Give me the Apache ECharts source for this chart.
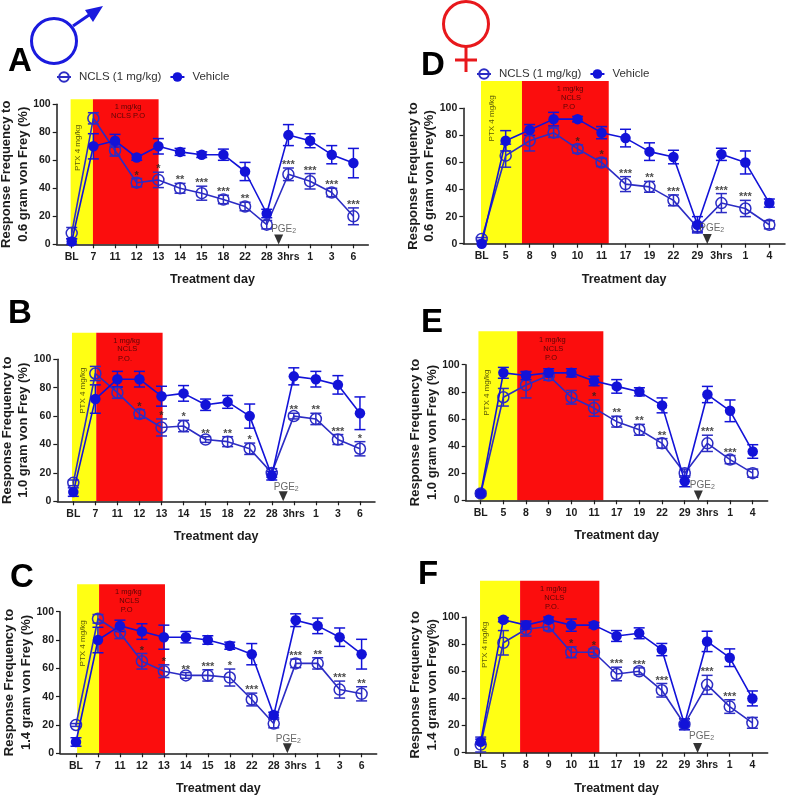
<!DOCTYPE html>
<html>
<head>
<meta charset="utf-8">
<style>html,body{margin:0;padding:0;background:#fff}#c{width:787px;height:797px}</style>
<script src="https://cdn.jsdelivr.net/npm/echarts@6/dist/echarts.min.js"></script>
</head>
<body>
<div id="c"></div>
<script>
// ---------- Data ----------
const maleCats   = ['BL','7','11','12','13','14','15','18','22','28','3hrs','1','3','6'];
const femaleCats = ['BL','5','8','9','10','11','17','19','22','29','3hrs','1','4'];

const aNcls    = [8,90,67,44,46,40,36.5,32,27,14,50,45,37,20];
const aNclsErr = [4,4,4,3,5.5,3.5,5,3,3,3,4.5,5.5,3,6];
const aVeh     = [2,70,74,62,70,66,64,64,52,22,78,74,64,58];
const aVehErr  = [2,9,4.5,2,5.5,2.5,2,4,6.5,3,7.5,5,6.5,10.5];
const aStars   = ['','','','*','*','**','***','***','**','','***','***','***','***'];

const bNcls    = [13,90,76.5,61.5,52,53,43.5,42,37,20,60,58,43.5,37];
const bNclsErr = [2,5,4,3,6,4,2,3.5,4,3,2,4,3.5,5];
const bVeh     = [6.5,72,86,86,74,76,68,70,60,18,88,86,82,62];
const bVehErr  = [3,10,5.5,5.5,7,5.5,4,4.5,8.5,3,6,5.5,6.5,11.5];
const bStars   = ['','','','*','*','*','**','**','*','','**','**','***','*'];

const cNcls    = [20,95,85,65,58,55,55,53.5,38,21,63.5,63.5,45,42];
const cNclsErr = [1,3,4,5.5,4.5,2,4,6,4.5,3,3,4,6,5];
const cVeh     = [8,80,90,86,82,82,80,76,70,27,94,90,82,70];
const cVehErr  = [3,9,4,5.5,8.5,4,3,2.5,7.5,2,4.5,5.5,6.5,10.5];
const cStars   = ['','','','*','*','**','***','*','***','','***','**','***','**'];

const dNcls    = [3.5,65,76,82,70,60,44,42,32,12,30,26,14];
const dNclsErr = [1,8.5,7.5,3.5,3,3,5.5,4,4,3,7,6,3];
const dVeh     = [0,76,84,92,92,82,78,68,64,14,66,60,30];
const dVehErr  = [0,7.5,4,5,2,4.5,6.5,6.5,5,6,4.5,8.5,3];
const dStars   = ['','','','','*','*','***','**','***','','***','***',''];

const eNcls    = [5,76,85,92,76,68,58,52,42,20,42,30,20];
const eNclsErr = [1,6.5,9.5,3.5,5,6,4,4,3.5,3,6,3,3];
const eVeh     = [5,94,92,94,94,88,84,80,70,14,78,66,36];
const eVehErr  = [2,4,3,3,3,3.5,5,3,5.5,4,6,8,5];
const eStars   = ['','','','','','*','**','**','**','','***','***',''];

const fNcls    = [6,81,91,93,74,74,58,60,46,21,50,34,22];
const fNclsErr = [5.5,9,5,3,4,2.5,5,2.5,5,4,7,5,4];
const fVeh     = [8,98,94,98,94,94,86,88,76,21,82,70,40];
const fVehErr  = [2,1.5,3,2,4.5,2,4,4,4.5,4,7.5,6.5,5.5];
const fStars   = ['','','','','*','*','***','***','***','','***','***',''];

const yTitles = [
  'Response Frequency to\n0.6 gram von Frey (%)',
  'Response Frequency to\n1.0 gram von Frey (%)',
  'Response Frequency to\n1.4 gram von Frey (%)',
  'Response Frequency to\n0.6 gram von Frey(%)',
  'Response Frequency to\n1.0 gram von Frey (%)',
  'Response Frequency to\n1.4 gram von Frey(%)'
];
const xTitle = 'Treatment day';
const seriesNames = ['NCLS (1 mg/kg)','Vehicle'];

// ---------- Layout ----------
const FONT = '"Liberation Sans", Arial, sans-serif';
const BLUE = '#1212d8', OPEN = '#2c2cc4', INK = '#1c1c1c';
const panels = [
 {L:'A',cats:maleCats,  n:aNcls,ne:aNclsErr,v:aVeh,ve:aVehErr,s:aStars, x0:56.7,x1:368.3,y100:104.3,y0:244.3,xBL:71.7, sp:21.67,
  band:[-0.05,0.98,4.01,103.6], pge:9.55, pgeOff:[5,1],  lx:[8,45],
  note:[[128,107,'1 mg/kg'],[128,116,'NCLS P.O']], ptx:[78,148]},
 {L:'B',cats:maleCats,  n:bNcls,ne:bNclsErr,v:bVeh,ve:bVehErr,s:bStars, x0:57.3,x1:375,  y100:359.3,y0:501.3,xBL:73.3, sp:22.05,
  band:[-0.06,1.04,4.05,118.7], pge:9.52, pgeOff:[3,2], lx:[8,297],
  note:[[126.7,340.7,'1 mg/kg'],[127.3,349.3,'NCLS'],[125,358.7,'P.O.']], ptx:[82.7,390.7]},
 {L:'C',cats:maleCats,  n:cNcls,ne:cNclsErr,v:cVeh,ve:cVehErr,s:cStars, x0:60,  x1:376.7,y100:611.7,y0:753.3,xBL:76,   sp:21.97,
  band:[0.05,1.05,4.05,119.3], pge:9.62, pgeOff:[1,2], lx:[10,561],
  note:[[128.3,591.7,'1 mg/kg'],[129.3,601,'NCLS'],[126.7,610,'P.O']], ptx:[82.7,643.3]},
 {L:'D',cats:femaleCats,n:dNcls,ne:dNclsErr,v:dVeh,ve:dVehErr,s:dStars, x0:463.3,x1:785, y100:108.3,y0:243.7,xBL:481.7,sp:23.97,
  band:[-0.03,1.68,5.3,120.2], pge:9.41, pgeOff:[4.5,1], lx:[421,49],
  note:[[570,89,'1 mg/kg'],[571,98.3,'NCLS'],[569,106.7,'P.O']], ptx:[491.7,118.3]},
 {L:'E',cats:femaleCats,n:eNcls,ne:eNclsErr,v:eVeh,ve:eVehErr,s:eStars, x0:465.7,x1:767.7,y100:364.7,y0:500.3,xBL:480.7,sp:22.67,
  band:[-0.1,1.61,5.41,124.6], pge:9.6, pgeOff:[4,1], lx:[421,306],
  note:[[552.3,340,'1 mg/kg'],[553.3,349,'NCLS'],[551,357.7,'P.O']], ptx:[486.7,392.7]},
 {L:'F',cats:femaleCats,n:fNcls,ne:fNclsErr,v:fVeh,ve:fVehErr,s:fStars, x0:465.7,x1:767.7,y100:617,  y0:752.7,xBL:480.7,sp:22.64,
  band:[-0.03,1.74,5.24,126.7], pge:9.58, pgeOff:[4,0], lx:[418,558],
  note:[[553.3,589.3,'1 mg/kg'],[554.3,598,'NCLS'],[552,607,'P.O.']], ptx:[485,645]}
];

// ---------- Build option ----------
const grid=[], xAxis=[], yAxis=[], series=[], graphic=[];

panels.forEach((p,i)=>{
  const idx = p.cats.map((_,k)=>k);
  grid.push({left:p.x0, top:p.y100, width:p.x1-p.x0, height:p.y0-p.y100, outerBoundsMode:'none', containLabel:false});
  xAxis.push({
    gridIndex:i, type:'value', z:1,
    min:(p.x0-p.xBL)/p.sp, max:(p.x1-p.xBL)/p.sp,
    splitLine:{show:false},
    axisLine:{show:true, onZero:false, lineStyle:{color:INK,width:1.5}},
    axisTick:{show:true, customValues:idx, length:4, lineStyle:{color:INK,width:1.2}},
    axisLabel:{show:true, customValues:idx, margin:7, color:INK, fontFamily:FONT, fontWeight:'bold', fontSize:10.5,
      formatter:v=>p.cats[Math.round(v)]},
    name:xTitle, nameLocation:'middle', nameGap:29, nameMoveOverlap:false,
    nameTextStyle:{fontFamily:FONT, fontWeight:'bold', fontSize:12.5, color:INK}
  });
  yAxis.push({
    gridIndex:i, type:'value', min:0, max:100, interval:20, z:1,
    splitLine:{show:false},
    axisLine:{show:true, onZero:false, lineStyle:{color:INK,width:1.5}},
    axisTick:{show:true, length:4, lineStyle:{color:INK,width:1.2}},
    axisLabel:{margin:6, color:INK, fontFamily:FONT, fontWeight:'bold', fontSize:10.5},
    name:yTitles[i], nameLocation:'middle', nameRotate:90, nameGap:25.5, nameMoveOverlap:false,
    nameTextStyle:{fontFamily:FONT, fontWeight:'bold', fontSize:13, lineHeight:16.5, color:INK}
  });

  // shaded treatment bands
  series.push({
    type:'custom', xAxisIndex:i, yAxisIndex:i, z:0, clip:false, silent:true,
    data:[[p.band[0],p.band[1],p.band[3]],[p.band[1],p.band[2],p.band[3]]],
    encode:{x:[0,1],y:2},
    renderItem:(params,api)=>{
      const a=api.coord([api.value(0),api.value(2)]), b=api.coord([api.value(1),0]);
      return {type:'rect', shape:{x:a[0],y:a[1],width:b[0]-a[0],height:b[1]-a[1]},
        style:{fill:params.dataIndex===0?'#ffff14':'#fb0d0d'}};
    }
  });

  // error bars, NCLS then vehicle
  [[p.n,p.ne,OPEN],[p.v,p.ve,BLUE]].forEach(([vals,errs,col])=>{
    series.push({
      type:'custom', xAxisIndex:i, yAxisIndex:i, z:3, clip:false, silent:true,
      data:vals.map((v,k)=>[k,v,errs[k]]),
      encode:{x:0,y:1},
      renderItem:(params,api)=>{
        const k=api.value(0), val=api.value(1), e=api.value(2);
        if(!e) return {type:'group',children:[]};
        const hi=api.coord([k,val+e]), lo=api.coord([k,val-e]);
        const st={stroke:col,lineWidth:1.5,fill:'none'}, w=5.5;
        return {type:'group',children:[
          {type:'line',shape:{x1:hi[0],y1:hi[1],x2:lo[0],y2:lo[1]},style:st},
          {type:'line',shape:{x1:hi[0]-w,y1:hi[1],x2:hi[0]+w,y2:hi[1]},style:st},
          {type:'line',shape:{x1:lo[0]-w,y1:lo[1],x2:lo[0]+w,y2:lo[1]},style:st}
        ]};
      }
    });
  });

  // the two lines
  series.push({
    name:seriesNames[0], type:'line', xAxisIndex:i, yAxisIndex:i, z:4, clip:false, silent:true,
    data:p.n.map((v,k)=>[k,v]), symbol:'circle', symbolSize:11, showAllSymbol:true,
    lineStyle:{color:OPEN,width:1.6},
    itemStyle:{color:'rgba(0,0,0,0)',borderColor:OPEN,borderWidth:1.5}
  });
  series.push({
    name:seriesNames[1], type:'line', xAxisIndex:i, yAxisIndex:i, z:5, clip:false, silent:true,
    data:p.v.map((v,k)=>[k,v]), symbol:'circle', symbolSize:10.5, showAllSymbol:true,
    lineStyle:{color:BLUE,width:1.6},
    itemStyle:{color:BLUE}
  });

  // significance stars above NCLS bars
  series.push({
    type:'scatter', xAxisIndex:i, yAxisIndex:i, z:6, clip:false, silent:true,
    symbolSize:1, itemStyle:{color:'rgba(0,0,0,0)'},
    data:p.s.map((s,k)=>({value:[k,p.n[k]+p.ne[k]],star:s})).filter(d=>d.star),
    label:{show:true, position:'top', distance:-3, color:'#222', fontFamily:FONT, fontWeight:'bold', fontSize:11,
      formatter:q=>q.data.star}
  });

  // PGE2 arrow
  series.push({
    type:'scatter', xAxisIndex:i, yAxisIndex:i, z:6, clip:false, silent:true,
    symbol:'triangle', symbolRotate:180, symbolSize:[9,10], itemStyle:{color:'#000'},
    data:[[p.pge,3.5]],
    label:{show:true, position:'top', distance:1, offset:p.pgeOff,
      formatter:'{a|PGE}{b|2}',
      rich:{a:{fontFamily:FONT,fontSize:10,color:'#444'},
            b:{fontFamily:FONT,fontSize:7,color:'#444',verticalAlign:'bottom',padding:[4,0,0,0]}}}
  });

  // Panel letter
  graphic.push({type:'text', x:p.lx[0], y:p.lx[1], style:{text:p.L, font:'bold 33px '+FONT, fill:'#000'}});
  // band notes
  p.note.forEach(t=>graphic.push({type:'text', x:t[0], y:t[1], z:10,
    style:{text:t[2], font:'7.5px '+FONT, fill:'#5a0606', align:'center', verticalAlign:'middle'}}));
  graphic.push({type:'text', x:p.ptx[0], y:p.ptx[1], rotation:Math.PI/2, z:10,
    style:{text:'PTX 4 mg/kg', font:'8px '+FONT, fill:'#5b5b08', align:'center', verticalAlign:'middle'}});
});

// sex symbols
const MALE='#1a1ade', FEMALE='#e8181c';
graphic.push(
  {type:'circle', shape:{cx:54,cy:41,r:22.5}, style:{fill:'none',stroke:MALE,lineWidth:3}},
  {type:'line', shape:{x1:73,y1:26,x2:92,y2:13}, style:{stroke:MALE,lineWidth:3}},
  {type:'polygon', shape:{points:[[85,10],[103,6],[93,22]]}, style:{fill:MALE}},
  {type:'circle', shape:{cx:466,cy:24,r:22.5}, style:{fill:'none',stroke:FEMALE,lineWidth:3}},
  {type:'line', shape:{x1:466,y1:47,x2:466,y2:72}, style:{stroke:FEMALE,lineWidth:3}},
  {type:'line', shape:{x1:455,y1:60,x2:477,y2:60}, style:{stroke:FEMALE,lineWidth:3}}
);

const legendStyle = {
  orient:'horizontal', padding:0, itemWidth:14, itemHeight:12, itemGap:8,
  selectedMode:false, data:seriesNames,
  textStyle:{fontFamily:FONT,fontSize:11.5,color:'#333',padding:[0,0,0,3]}
};

const chart = echarts.init(document.getElementById('c'), null, {renderer:'canvas'});
chart.setOption({
  animation:false, backgroundColor:'#fff',
  grid, xAxis, yAxis, series, graphic:{elements:graphic},
  legend:[
    Object.assign({left:56, top:71},legendStyle),
    Object.assign({left:476, top:68},legendStyle)
  ]
});
</script>
</body>
</html>
